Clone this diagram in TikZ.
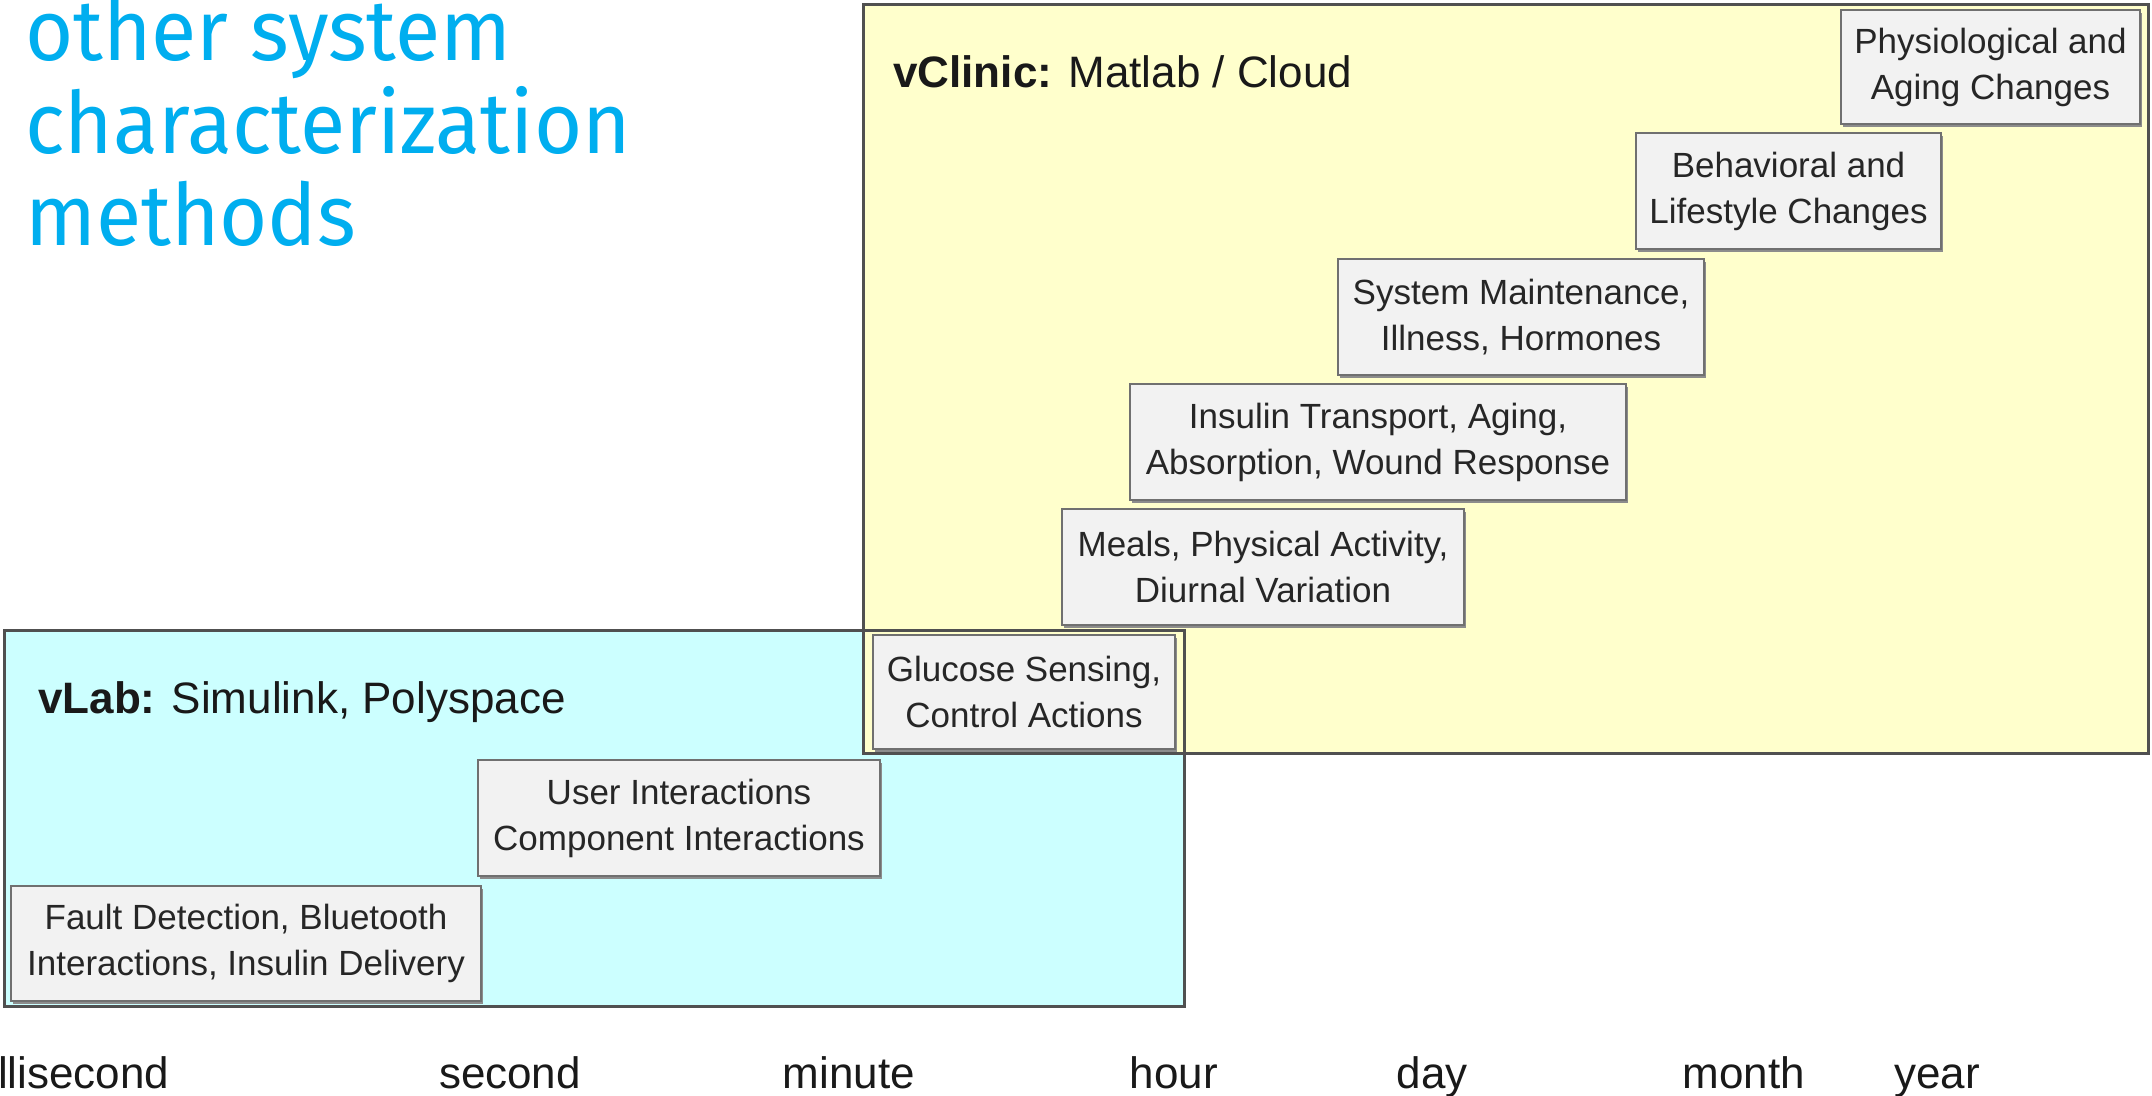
\documentclass[tikz,border=0pt]{standalone}
\usepackage{fontspec}
\setmainfont{Liberation Sans}
\newfontfamily\titlefont{Fira Sans}
\usetikzlibrary{shadows}

\definecolor{titleblue}{HTML}{00AEEF}
\definecolor{clinicfill}{HTML}{FFFFCC}
\definecolor{labfill}{HTML}{CCFFFF}
\definecolor{itemfill}{HTML}{F2F2F2}
\definecolor{regionframe}{HTML}{505050}
\definecolor{itemframe}{HTML}{707070}
\definecolor{itemtext}{HTML}{262626}

% narrowed heading line
\newcommand{\headingline}[1]{\scalebox{0.962}[1]{#1}}

\begin{document}
\begin{tikzpicture}[x=1pt,y=-1pt,
  regionfill/.style={rectangle, inner sep=0, outer sep=0},
  regionedge/.style={draw=regionframe, line width=3pt},
  item/.style={rectangle, inner sep=0, outer sep=0, align=center,
    fill=itemfill, draw=itemframe, line width=2.5pt, text=itemtext,
    font=\fontsize{35}{46}\selectfont,
    general shadow={fill=black!45, shadow xshift=1.5pt, shadow yshift=-2.5pt}},
  headlabel/.style={inner sep=0, anchor=base west, text=black!90,
    font=\fontsize{44}{50}\selectfont},
  axislabel/.style={inner sep=0, anchor=base, text=black!90,
    font=\fontsize{44}{50}\selectfont},
  titleline/.style={inner sep=0, anchor=base west, text=titleblue,
    font=\titlefont\fontsize{86}{92}\selectfont}]

\useasboundingbox (0,0) rectangle (2152,1095);

% heading
\node[titleline] (title1) at (25,60)  {\headingline{other system}};
\node[titleline] (title2) at (25,153) {\headingline{characterization}};
\node[titleline] (title3) at (25,245) {\headingline{methods}};

% the two tool regions (vClinic fill lies over the vLab fill, both frames on top)
\node[regionfill, fill=labfill, minimum width=1180, minimum height=376] (vlab) at (594,818) {};
\node[regionfill, fill=clinicfill, minimum width=1285, minimum height=749] (vclinic) at (1505.5,378.5) {};
\draw[regionedge] (vlab.north west) rectangle (vlab.south east);
\draw[regionedge] (vclinic.north west) rectangle (vclinic.south east);

\node[headlabel] (cliniclabel) at (893,87) {\textbf{vClinic:} Matlab / Cloud};
\node[headlabel] (lablabel) at (38,713) {\textbf{vLab:} Simulink, Polyspace};

% phenomena, ordered by time scale
\node[item, minimum width=299, minimum height=114] (physio) at (1990.5,67)
  {Physiological and\\Aging Changes};
\node[item, minimum width=305, minimum height=116] (behav) at (1788.5,191)
  {Behavioral and\\Lifestyle Changes};
\node[item, minimum width=366, minimum height=116] (maint) at (1521,317)
  {System Maintenance,\\Illness, Hormones};
\node[item, minimum width=496, minimum height=116] (insulin) at (1378,442)
  {Insulin Transport, Aging,\\Absorption, Wound Response};
\node[item, minimum width=402, minimum height=116] (meals) at (1263,567)
  {Meals, Physical Activity,\\Diurnal Variation};
\node[item, minimum width=302, minimum height=114] (glucose) at (1024,692)
  {Glucose Sensing,\\Control Actions};
\node[item, minimum width=402, minimum height=116] (user) at (679,818)
  {User Interactions\\Component Interactions};
\node[item, minimum width=470, minimum height=115] (fault) at (246,943.5)
  {Fault Detection, Bluetooth\\Interactions, Insulin Delivery};

% time axis
\node[axislabel, anchor=base west] (tms) at (-2,1088) {llisecond};
\node[axislabel] (tsec) at (510,1088) {second};
\node[axislabel] (tmin) at (849,1088) {minute};
\node[axislabel] (thour) at (1174,1088) {hour};
\node[axislabel] (tday) at (1432,1088) {day};
\node[axislabel] (tmonth) at (1744,1088) {month};
\node[axislabel] (tyear) at (1937,1088) {year};
\end{tikzpicture}
\end{document}
